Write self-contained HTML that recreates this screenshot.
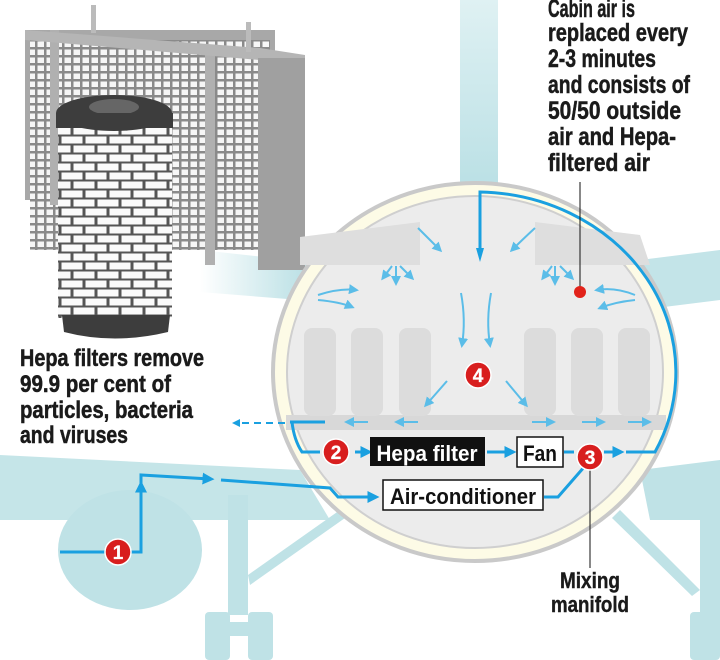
<!DOCTYPE html>
<html><head><meta charset="utf-8"><style>
html,body{margin:0;padding:0;background:#fff;}
svg{display:block;}
text{font-family:"Liberation Sans Narrow","Liberation Sans",sans-serif;font-weight:bold;}
</style></head><body>
<svg width="720" height="660" viewBox="0 0 720 660" xmlns="http://www.w3.org/2000/svg">
<defs>
<pattern id="grid" width="9" height="8" patternUnits="userSpaceOnUse">
<rect width="9" height="8" fill="#8a8a8a"/><rect x="1.5" y="1.5" width="6.5" height="5.5" fill="#f6f6f6"/>
</pattern>
<pattern id="brick" width="24" height="18" patternUnits="userSpaceOnUse">
<rect width="24" height="18" fill="#555"/>
<rect x="1.5" y="1.5" width="21" height="7" fill="#fafafa"/>
<rect x="-10.5" y="10.5" width="21" height="7" fill="#fafafa"/>
<rect x="13.5" y="10.5" width="21" height="7" fill="#fafafa"/>
</pattern>
<linearGradient id="pyl" x1="0" y1="0" x2="0" y2="1"><stop offset="0" stop-color="#dff1f3"/><stop offset="1" stop-color="#b8dfe4"/></linearGradient>
<linearGradient id="band" x1="0" y1="0" x2="1" y2="0"><stop offset="0" stop-color="#fff"/><stop offset="1" stop-color="#b8dfe4"/></linearGradient>
<marker id="ah" markerWidth="4" markerHeight="4" refX="2.5" refY="2" orient="auto" markerUnits="strokeWidth"><path d="M0,0 L4,2 L0,4 z" fill="#1aa0e0"/></marker>
<marker id="la" markerWidth="5" markerHeight="5" refX="3.5" refY="2.5" orient="auto" markerUnits="strokeWidth"><path d="M0,0 L5,2.5 L0,5 z" fill="#5bbde8"/></marker>
</defs>

<!-- teal airframe -->
<rect x="460" y="0" width="38" height="200" fill="url(#pyl)"/>
<path d="M200,250 L310,262 L300,300 L200,292 z" fill="url(#band)"/>
<path d="M640,260 L720,250 L720,300 L640,310 z" fill="#c3e4e8"/>
<path d="M0,455 L300,470 L330,520 L0,520 z" fill="#bfe2e6" opacity="0.9"/>
<path d="M640,470 L720,460 L720,520 L650,520 z" fill="#bfe2e6"/>
<ellipse cx="130" cy="550" rx="72" ry="60" fill="#bfe2e6"/>
<rect x="228" y="495" width="20" height="120" fill="#bfe2e6"/>
<path d="M248,575 L340,510 L345,518 L250,585 z" fill="#bfe2e6"/>
<rect x="205" y="612" width="25" height="48" rx="4" fill="#bfe2e6"/>
<rect x="248" y="612" width="25" height="48" rx="4" fill="#bfe2e6"/>
<rect x="225" y="622" width="28" height="14" fill="#bfe2e6"/>
<path d="M620,510 L700,590 L692,596 L612,518 z" fill="#bfe2e6"/>
<rect x="700" y="500" width="20" height="120" fill="#bfe2e6"/>
<rect x="690" y="612" width="30" height="48" rx="4" fill="#bfe2e6"/>

<!-- filters -->
<rect x="25" y="30" width="250" height="170" fill="#a8a8a8"/>
<rect x="30" y="40" width="240" height="210" fill="url(#grid)"/>
<rect x="50" y="30" width="9" height="175" fill="#b0b0b0"/>
<rect x="205" y="50" width="10" height="215" fill="#b0b0b0"/>
<path d="M25,30 L260,48 L305,55 L305,65 L260,60 L25,40 z" fill="#b5b5b5"/>
<rect x="258" y="58" width="47" height="212" fill="#a0a0a0"/>
<rect x="91" y="5" width="5" height="28" fill="#bbb"/><rect x="246" y="22" width="5" height="30" fill="#bbb"/>
<rect x="58" y="118" width="114" height="200" fill="url(#brick)"/>
<ellipse cx="114" cy="113" rx="58" ry="18" fill="#3d3d3d"/>
<ellipse cx="114" cy="107" rx="25" ry="8" fill="#666"/>
<rect x="56" y="113" width="117" height="15" fill="#3d3d3d"/>
<path d="M62,315 L170,315 L168,332 Q114,345 64,332 z" fill="#3d3d3d"/>

<!-- fuselage -->
<ellipse cx="475" cy="372" rx="202" ry="189" fill="#fdfbe6" stroke="#c9c9c9" stroke-width="4"/>
<ellipse cx="475" cy="372" rx="188" ry="176" fill="#ececec" stroke="#cfcfcf" stroke-width="2"/>
<path d="M300,237 L420,222 L420,265 L300,265 z" fill="#dedede"/>
<path d="M535,222 L640,235 L650,265 L535,265 z" fill="#dedede"/>
<rect x="286" y="415" width="380" height="15" fill="#d8d8d8"/>
<g fill="#dcdcdc">
<rect x="304" y="328" width="32" height="88" rx="8"/><rect x="351" y="328" width="32" height="88" rx="8"/><rect x="399" y="328" width="32" height="88" rx="8"/>
<rect x="524" y="328" width="32" height="88" rx="8"/><rect x="571" y="328" width="32" height="88" rx="8"/><rect x="618" y="328" width="32" height="88" rx="8"/>
</g>

<!-- light arrows -->
<g stroke="#5bbde8" stroke-width="2" fill="none" marker-end="url(#la)">
<path d="M418,228 Q430,240 440,250"/><path d="M535,228 Q522,240 512,250"/>
<path d="M392,266 L383,278"/><path d="M396,266 L396,283"/><path d="M400,266 L412,278"/>
<path d="M552,266 L543,278"/><path d="M555,266 L555,283"/><path d="M560,266 L572,278"/>
<path d="M318,295 Q340,288 356,290"/><path d="M318,300 Q340,302 352,307"/>
<path d="M635,295 Q615,287 597,290"/><path d="M635,300 Q615,302 600,308"/>
<path d="M461,293 Q466,320 462,345"/><path d="M491,293 Q486,320 490,345"/>
<path d="M447,381 L426,405"/><path d="M506,381 L526,405"/>
<path d="M368,422 L347,422"/><path d="M418,422 L397,422"/>
<path d="M532,422 L553,422"/><path d="M582,422 L603,422"/><path d="M628,422 L649,422"/>
</g>

<!-- blue main lines -->
<g stroke="#1aa0e0" stroke-width="3" fill="none">
<path d="M290,422 L325,422"/>
<path d="M292,422 Q294,440 302,452 L320,452"/>
<path d="M355,452 L368,452" marker-end="url(#ah)"/>
<path d="M487,452 L512,452" marker-end="url(#ah)"/>
<path d="M564,452 L574,452"/>
<path d="M604,452 L620,452" marker-end="url(#ah)"/>
<path d="M626,452 L655,452 A200,180 0 0 0 480,192 L480,250"/>
<path d="M60,552 L105,552"/><path d="M131,552 L141,552 L141,485" marker-end="url(#ah)"/>
<path d="M141,489 L141,475 L210,479" marker-end="url(#ah)"/>
<path d="M221,480 L330,488 L338,497 L375,497" marker-end="url(#ah)"/>
<path d="M544,497 L558,497 L585,466"/>
</g>
<path d="M476,248 L480,262 L484,248 z" fill="#1aa0e0"/>
<path d="M285,423 L235,423" stroke="#1aa0e0" stroke-width="2" stroke-dasharray="7,5" fill="none"/>
<path d="M232,423 L240,419 L240,427 z" fill="#1aa0e0"/>

<!-- boxes -->
<rect x="370" y="437" width="115" height="29" fill="#111"/>
<text x="427" y="461" font-size="22" fill="#fff" text-anchor="middle" textLength="101" lengthAdjust="spacingAndGlyphs">Hepa filter</text>
<rect x="517" y="437" width="46" height="30" fill="#fff" stroke="#111" stroke-width="1.5"/>
<text x="540" y="461" font-size="22" fill="#111" text-anchor="middle" textLength="34" lengthAdjust="spacingAndGlyphs">Fan</text>
<rect x="383" y="480" width="160" height="30" fill="#fff" stroke="#111" stroke-width="1.5"/>
<text x="463" y="504" font-size="22" fill="#111" text-anchor="middle" textLength="146" lengthAdjust="spacingAndGlyphs">Air-conditioner</text>

<!-- markers -->
<line x1="580" y1="182" x2="580" y2="292" stroke="#111" stroke-width="1"/>
<circle cx="580" cy="292" r="6" fill="#e2231a"/>
<line x1="590" y1="460" x2="590" y2="568" stroke="#111" stroke-width="1"/>
<g font-size="19" fill="#fff" text-anchor="middle" stroke="#fff" stroke-width="0.3">
<circle cx="478" cy="375" r="13" fill="#d81e1e" stroke="#fff" stroke-width="1.5"/><text x="478" y="382">4</text>
<circle cx="336" cy="452" r="13" fill="#d81e1e" stroke="#fff" stroke-width="1.5"/><text x="336" y="459">2</text>
<circle cx="590" cy="457" r="13" fill="#d81e1e" stroke="#fff" stroke-width="1.5"/><text x="590" y="464">3</text>
<circle cx="118" cy="552" r="13" fill="#d81e1e" stroke="#fff" stroke-width="1.5"/><text x="118" y="559">1</text>
</g>

<!-- text -->
<g font-size="25" fill="#1a1a1a" stroke="#1a1a1a" stroke-width="0.5">
<text x="548" y="17" textLength="87" lengthAdjust="spacingAndGlyphs">Cabin air is</text>
<text x="548" y="41" textLength="140" lengthAdjust="spacingAndGlyphs">replaced every</text>
<text x="548" y="67" textLength="108" lengthAdjust="spacingAndGlyphs">2-3 minutes</text>
<text x="548" y="93" textLength="142" lengthAdjust="spacingAndGlyphs">and consists of</text>
<text x="548" y="119" textLength="133" lengthAdjust="spacingAndGlyphs">50/50 outside</text>
<text x="548" y="145" textLength="128" lengthAdjust="spacingAndGlyphs">air and Hepa-</text>
<text x="548" y="171" textLength="102" lengthAdjust="spacingAndGlyphs">filtered air</text>
</g>
<g font-size="24" fill="#1a1a1a" stroke="#1a1a1a" stroke-width="0.5">
<text x="20" y="366" textLength="184" lengthAdjust="spacingAndGlyphs">Hepa filters remove</text>
<text x="20" y="392" textLength="151" lengthAdjust="spacingAndGlyphs">99.9 per cent of</text>
<text x="20" y="418" textLength="173" lengthAdjust="spacingAndGlyphs">particles, bacteria</text>
<text x="20" y="443" textLength="108" lengthAdjust="spacingAndGlyphs">and viruses</text>
</g>
<g font-size="22" fill="#1a1a1a" text-anchor="middle" stroke="#1a1a1a" stroke-width="0.4">
<text x="590" y="588" textLength="60" lengthAdjust="spacingAndGlyphs">Mixing</text>
<text x="590" y="612" textLength="78" lengthAdjust="spacingAndGlyphs">manifold</text>
</g>
</svg>
</body></html>
